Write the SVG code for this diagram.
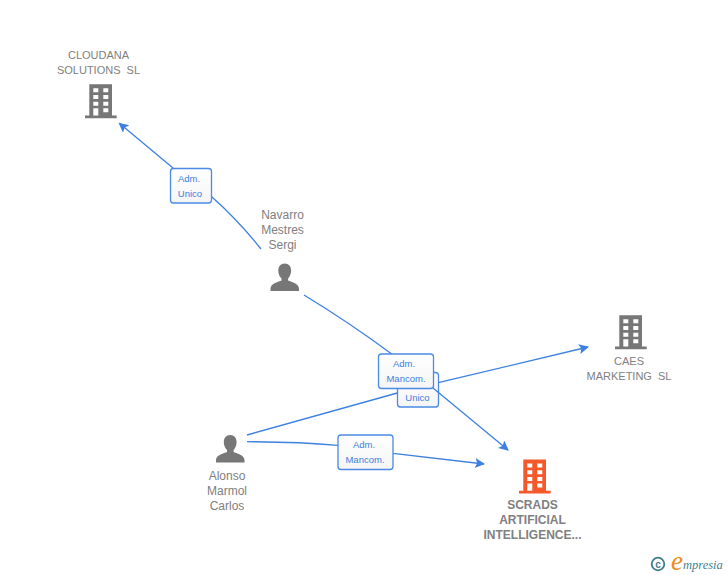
<svg xmlns="http://www.w3.org/2000/svg" width="728" height="575" viewBox="0 0 728 575">
<style>
.t{font-family:"Liberation Sans",Arial,sans-serif;font-size:12px;fill:#808080;text-anchor:middle}
.co{font-size:11px}
.b{font-weight:bold;font-size:12px}
.l{font-family:"Liberation Sans",Arial,sans-serif;font-size:9.500px;fill:#3d80e0;text-anchor:middle}
.c{fill:none;stroke:#3d80e0;stroke-width:1.300}
.box{fill:url(#g);stroke:#4a8ae4;stroke-width:1.300}
</style>
<defs>
<marker id="a" markerWidth="12" markerHeight="12" refX="9" refY="5" orient="auto" markerUnits="userSpaceOnUse"><path d="M0 0L10 5L0 10L2.200 5Z" fill="#3d80e0"/></marker>
<path id="bld" fill-rule="evenodd" d="M4.300 0H27V31.200H31.700V34H0V31.200H4.300ZM8.300 4V8H13.300V4ZM18.300 4V8H23.300V4ZM8.300 10.700V14.700H13.300V10.700ZM18.300 10.700V14.700H23.300V10.700ZM8.300 17.400V21.400H13.300V17.400ZM18.300 17.400V21.400H23.300V17.400ZM8.300 24V31.200H13.300V24ZM18.300 24V28H23.300V24Z"/>
<path id="per" d="M14.200 0C18.200 0 20.600 3 20.600 7C20.600 10.500 19.300 13 17.600 15V17C20 18.500 28.500 19.500 28.500 25V27.400H0V25C0 19.500 8.500 18.500 11 17V15C9 13 7.800 10.500 7.800 7C7.800 3 10.200 0 14.200 0Z"/>
<linearGradient id="g" x1="0" y1="0" x2="0" y2="1"><stop offset="0" stop-color="#fff"/><stop offset="1" stop-color="#f5f5f5"/></linearGradient>
</defs>
<g id="label-unico"><rect class="box" x="397.500" y="372.500" width="41" height="34.500" rx="3"/><text class="l" x="417.500" y="401">Unico</text></g>
<g id="connectors">
<path class="c" d="M261 249Q238 220 211.700 196.700L173.300 168.300L119.300 123.300" marker-end="url(#a)"/>
<path class="c" d="M304 295Q350 323 391.700 354L433 388L508 450" marker-end="url(#a)"/>
<path class="c" d="M247 435L397.300 393"/>
<path class="c" d="M438.300 382.700L588 347" marker-end="url(#a)"/>
<path class="c" d="M247 441.700Q300 442 338 445.300L393 453.300L484 464" marker-end="url(#a)"/>
</g>
<g id="label-adm-unico"><rect class="box" x="170.500" y="168.500" width="41" height="34.500" rx="3"/><text class="l" x="189" y="182">Adm.</text><text class="l" x="190" y="197">Unico</text></g>
<g id="label-adm-mancom-1"><rect class="box" x="378.500" y="354" width="55" height="34.500" rx="3"/><text class="l" x="404" y="367">Adm.</text><text class="l" x="406" y="382">Mancom.</text></g>
<g id="label-adm-mancom-2"><rect class="box" x="338" y="435" width="55" height="34.500" rx="3"/><text class="l" x="364" y="448">Adm.</text><text class="l" x="365" y="463">Mancom.</text></g>
<g id="node-cloudana"><use href="#bld" x="85" y="84.300" fill="#777"/><text class="t co" x="98.500" y="59">CLOUDANA</text><text class="t co" x="98.500" y="74">SOLUTIONS&#160; SL</text></g>
<g id="node-navarro"><use href="#per" x="270.500" y="263.500" fill="#777"/><text class="t" x="282.500" y="219">Navarro</text><text class="t" x="282.500" y="234">Mestres</text><text class="t" x="282.500" y="249">Sergi</text></g>
<g id="node-caes"><use href="#bld" x="615" y="315.300" fill="#777"/><text class="t co" x="629" y="365">CAES</text><text class="t co" x="629" y="380">MARKETING&#160; SL</text></g>
<g id="node-alonso"><use href="#per" x="216" y="435" fill="#777"/><text class="t" x="227" y="480">Alonso</text><text class="t" x="227" y="495">Marmol</text><text class="t" x="227" y="510">Carlos</text></g>
<g id="node-scrads"><use href="#bld" x="519" y="459.500" fill="#f4592b"/><text class="t b" x="532.500" y="509">SCRADS</text><text class="t b" x="532.500" y="524">ARTIFICIAL</text><text class="t b" x="532.500" y="539">INTELLIGENCE...</text></g>
<g id="logo"><circle cx="658" cy="564" r="6.300" fill="none" stroke="#3f7f92" stroke-width="1.800"/><text x="658" y="567.500" text-anchor="middle" font-family="Liberation Sans,sans-serif" font-weight="bold" font-size="10" fill="#3f7f92">c</text><text x="671" y="570" font-family="Liberation Serif,serif" font-style="italic" font-size="27" fill="#f08a1d">e</text><text x="683" y="569" font-family="Liberation Serif,serif" font-style="italic" font-size="12.500" fill="#3f7f92">mpresia</text></g>
</svg>
